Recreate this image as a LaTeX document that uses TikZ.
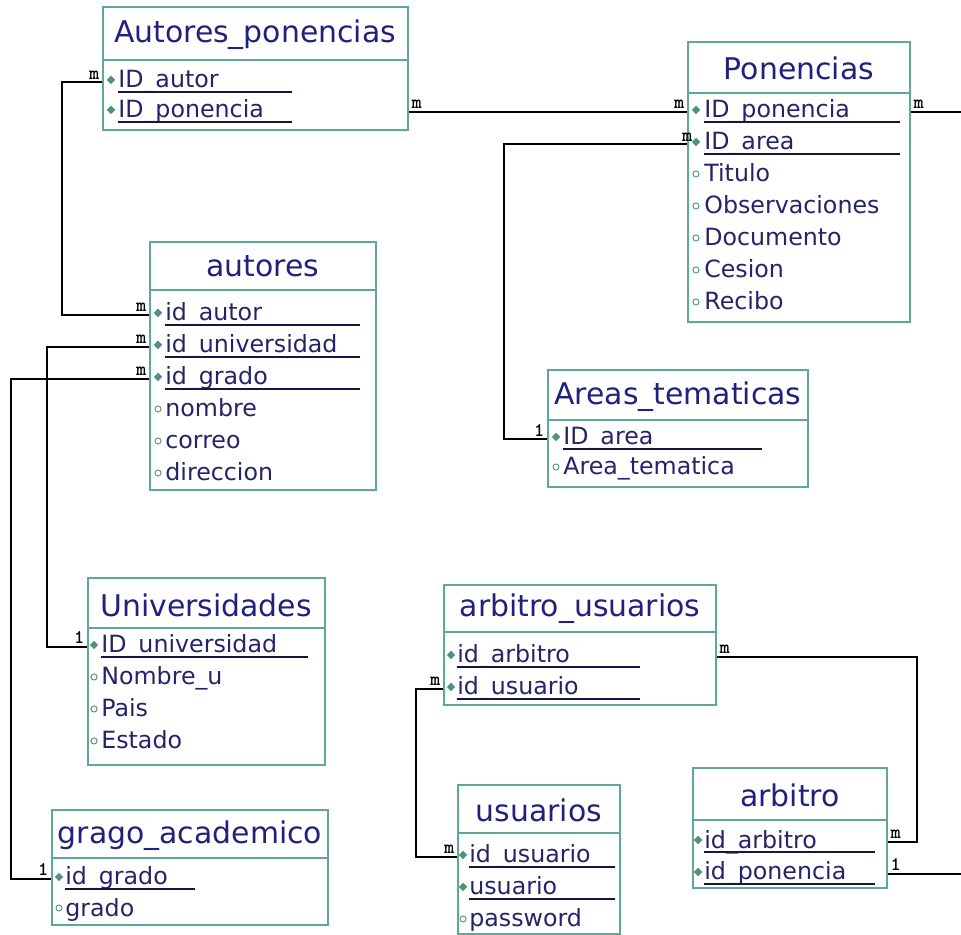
\documentclass[tikz,border=0pt]{standalone}
\usepackage{fontspec}
\setmainfont{DejaVu Sans}
\usetikzlibrary{fit,shapes.geometric}
\definecolor{bordeverde}{RGB}{95,168,150}
\definecolor{tinta}{RGB}{36,36,105}
\definecolor{tintatit}{RGB}{32,32,125}
\tikzset{
  tabla/.style={draw=bordeverde, line width=0.9pt, inner sep=0pt, fill=white},
  divide/.style={draw=bordeverde, line width=0.9pt},
  titulo/.style={text=tintatit, font=\fontsize{17}{20}\selectfont},
  campo/.style={anchor=base west, inner sep=0pt, text=tinta, font=\fontsize{13.5}{16}\selectfont},
  pk/.style={diamond, fill=bordeverde!85!black, inner sep=0pt, minimum size=5pt},
  atr/.style={circle, draw=bordeverde!85!black, inner sep=0pt, minimum size=3.5pt, line width=0.5pt},
  subraya/.style={draw=tinta!60!black, line width=1pt},
  rel/.style={draw=black, line width=0.9pt},
  card/.style={font=\ttfamily\bfseries\fontsize{11}{11}\selectfont, inner sep=1.2pt},
}
\begin{document}
\begin{tikzpicture}[x=0.02cm, y=-0.02cm]
  \useasboundingbox (0,0) rectangle (961,935);
  \coordinate (margen) at (961,0);

  % Autores_ponencias
  \node[tabla, fit={(103,7) (408,130)}] (ap) {};
  \draw[divide] (103,60) -- (408,60);
  \node[titulo] at (255,35) {Autores\_ponencias};
  \foreach \t [count=\i] in {ID\_autor, ID\_ponencia}{
    \node[campo] (ap-\i) at (118, 58+30*\i) {\t};
    \node[pk] at (111, 50+30*\i) {};
    \draw[subraya] (118, 62+30*\i) -- (292, 62+30*\i);
  }

  % Ponencias
  \node[tabla, fit={(688,42) (910,322)}] (pon) {};
  \draw[divide] (688,93) -- (910,93);
  \node[titulo] at (799,68) {Ponencias};
  \foreach \t/\k [count=\i] in {ID\_ponencia/1, ID\_area/1, Titulo/0, Observaciones/0, Documento/0, Cesion/0, Recibo/0}{
    \node[campo] (pon-\i) at (704, 86+32*\i) {\t};
    \ifnum\k=1
      \node[pk] at (696, 78+32*\i) {};
      \draw[subraya] (704, 90+32*\i) -- (900, 90+32*\i);
    \else
      \node[atr] at (696, 78+32*\i) {};
    \fi
  }

  % autores
  \node[tabla, fit={(150,242) (376,490)}] (aut) {};
  \draw[divide] (150,290) -- (376,290);
  \node[titulo] at (263,266) {autores};
  \foreach \t/\k [count=\i] in {id\_autor/1, id\_universidad/1, id\_grado/1, nombre/0, correo/0, direccion/0}{
    \node[campo] (aut-\i) at (165, 289+32*\i) {\t};
    \ifnum\k=1
      \node[pk] at (158, 281+32*\i) {};
      \draw[subraya] (165, 293+32*\i) -- (360, 293+32*\i);
    \else
      \node[atr] at (158, 281+32*\i) {};
    \fi
  }

  % Areas_tematicas
  \node[tabla, fit={(548,370) (808,487)}] (are) {};
  \draw[divide] (548,420) -- (808,420);
  \node[titulo] at (678,397) {Areas\_tematicas};
  \foreach \t/\k [count=\i] in {ID\_area/1, Area\_tematica/0}{
    \node[campo] (are-\i) at (563, 415+30*\i) {\t};
    \ifnum\k=1
      \node[pk] at (556, 407+30*\i) {};
      \draw[subraya] (563, 419+30*\i) -- (762, 419+30*\i);
    \else
      \node[atr] at (556, 407+30*\i) {};
    \fi
  }

  % Universidades
  \node[tabla, fit={(88,578) (325,765)}] (uni) {};
  \draw[divide] (88,628) -- (325,628);
  \node[titulo] at (206,605) {Universidades};
  \foreach \t/\k [count=\i] in {ID\_universidad/1, Nombre\_u/0, Pais/0, Estado/0}{
    \node[campo] (uni-\i) at (101, 621+32*\i) {\t};
    \ifnum\k=1
      \node[pk] at (94, 613+32*\i) {};
      \draw[subraya] (101, 625+32*\i) -- (308, 625+32*\i);
    \else
      \node[atr] at (94, 613+32*\i) {};
    \fi
  }

  % grago_academico
  \node[tabla, fit={(52,810) (328,925)}] (gra) {};
  \draw[divide] (52,858) -- (328,858);
  \node[titulo] at (190,836) {grago\_academico};
  \foreach \t/\k [count=\i] in {id\_grado/1, grado/0}{
    \node[campo] (gra-\i) at (65, 854+31*\i) {\t};
    \ifnum\k=1
      \node[pk] at (59, 846+31*\i) {};
      \draw[subraya] (65, 858+31*\i) -- (195, 858+31*\i);
    \else
      \node[atr] at (59, 846+31*\i) {};
    \fi
  }

  % arbitro_usuarios
  \node[tabla, fit={(444,585) (716,705)}] (abu) {};
  \draw[divide] (444,632) -- (716,632);
  \node[titulo] at (580,609) {arbitro\_usuarios};
  \foreach \t [count=\i] in {id\_arbitro, id\_usuario}{
    \node[campo] (abu-\i) at (457, 631+32*\i) {\t};
    \node[pk] at (451, 623+32*\i) {};
    \draw[subraya] (457, 635+32*\i) -- (640, 635+32*\i);
  }

  % usuarios
  \node[tabla, fit={(458,785) (620,934)}] (usu) {};
  \draw[divide] (458,833) -- (620,833);
  \node[titulo] at (539,810) {usuarios};
  \foreach \t/\k [count=\i] in {id\_usuario/1, usuario/1, password/0}{
    \node[campo] (usu-\i) at (469, 831+32*\i) {\t};
    \ifnum\k=1
      \node[pk] at (463, 823+32*\i) {};
      \draw[subraya] (469, 835+32*\i) -- (615, 835+32*\i);
    \else
      \node[atr] at (463, 823+32*\i) {};
    \fi
  }

  % arbitro
  \node[tabla, fit={(693,768) (887,888)}] (arb) {};
  \draw[divide] (693,820) -- (887,820);
  \node[titulo] at (790,795) {arbitro};
  \foreach \t [count=\i] in {id\_arbitro, id\_ponencia}{
    \node[campo] (arb-\i) at (704, 816+32*\i) {\t};
    \node[pk] at (698, 808+32*\i) {};
    \draw[subraya] (704, 820+32*\i) -- (875, 820+32*\i);
  }

  % relaciones
  \draw[rel] (aut-1 -| aut.west) node[card, above left]{m} -- ++(-87,0) |- (ap-1 -| ap.west) node[card, above left]{m};
  \draw[rel] (aut-2 -| aut.west) node[card, above left]{m} -- ++(-102,0) |- (uni-1 -| uni.west) node[card, above left]{1};
  \draw[rel] (aut-3 -| aut.west) node[card, above left]{m} -- ++(-138,0) |- (gra-1 -| gra.west) node[card, above left]{1};
  \draw[rel] (ap-2 -| ap.east) node[card, above right]{m} -- (pon-1 -| pon.west) node[card, above left]{m};
  \draw[rel] (pon-2 -| pon.west) node[card, above]{m} -- ++(-183,0) |- (are-1 -| are.west) node[card, above left]{1};
  \draw[rel] (pon-1 -| pon.east) node[card, above right]{m} -- (pon-1 -| margen);
  \draw[rel] (abu-1 -| abu.east) node[card, above right]{m} -- ++(200,0) |- (arb-1 -| arb.east) node[card, above right]{m};
  \draw[rel] (abu-2 -| abu.west) node[card, above left]{m} -- ++(-27,0) |- (usu-1 -| usu.west) node[card, above left]{m};
  \draw[rel] (arb-2 -| arb.east) node[card, above right]{1} -- (arb-2 -| margen);
\end{tikzpicture}
\end{document}
